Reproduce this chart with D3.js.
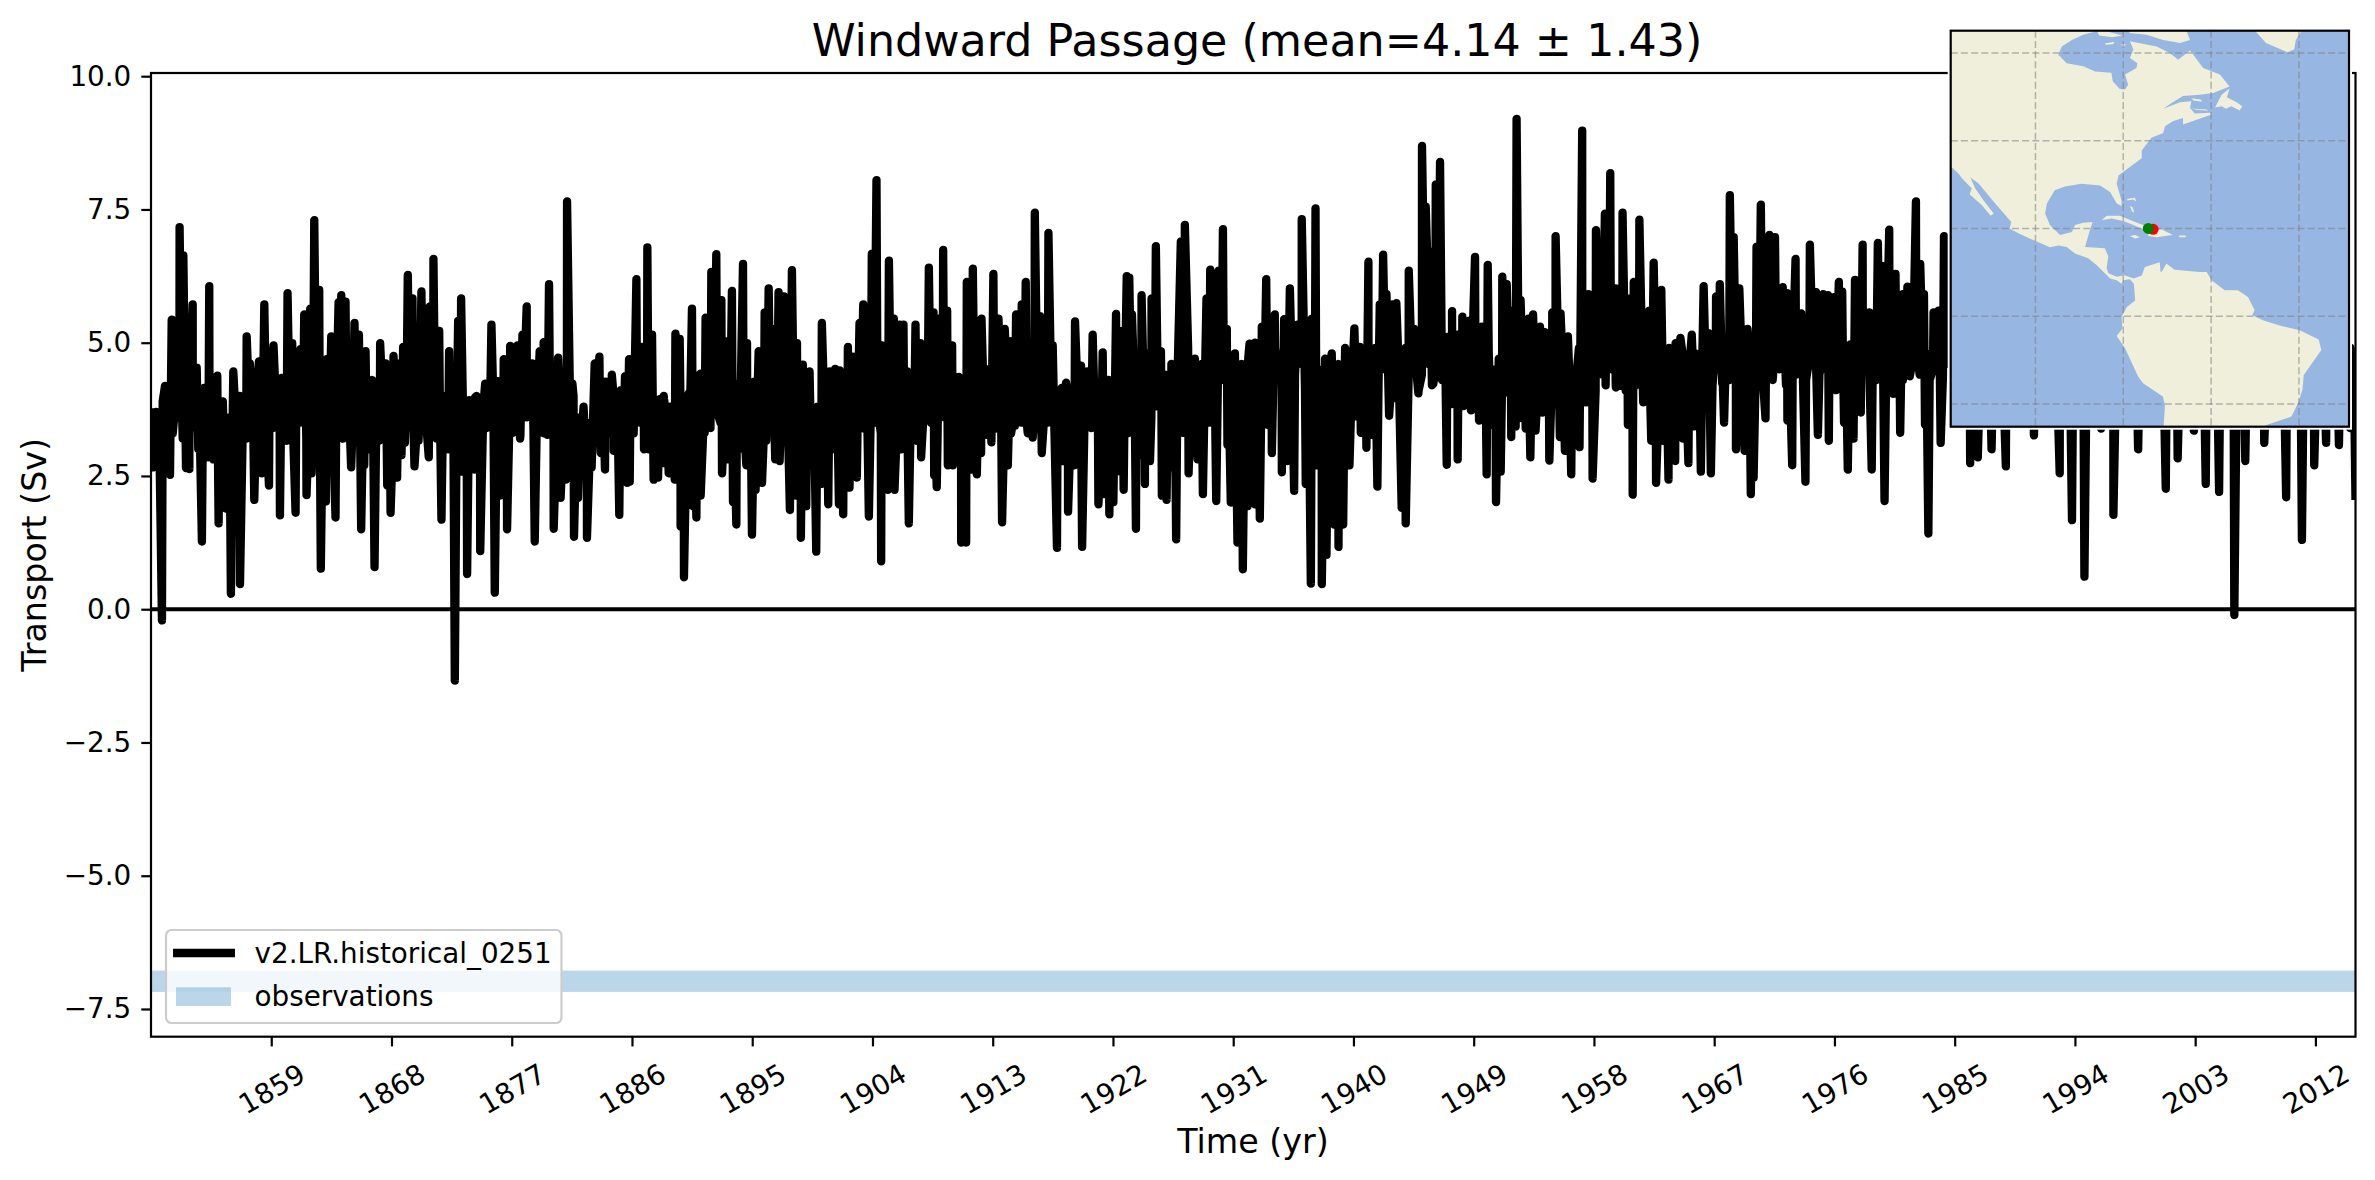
<!DOCTYPE html>
<html>
<head>
<meta charset="utf-8">
<script src="https://cdn.jsdelivr.net/npm/d3@7"></script>
<style>
html,body{margin:0;padding:0;background:#fff}
svg{display:block}
text{font-family:"DejaVu Sans";fill:#000}
</style>
</head>
<body>
<svg id="chart" width="2375" height="1180"></svg>
<script>
// ---------- chart values ----------
const titleText = "Windward Passage (mean=4.14 \u00b1 1.43)";
const xLabelText = "Time (yr)";
const yLabelText = "Transport (Sv)";
const seriesName = "v2.LR.historical_0251";
const bandName = "observations";
const xTicks = [1859,1868,1877,1886,1895,1904,1913,1922,1931,1940,1949,1958,1967,1976,1985,1994,2003,2012];
const yTicks = [-7.5,-5,-2.5,0,2.5,5,7.5,10];
const xDomain = [1850,2015];
const yDomain = [-8.02,10.06];
const bandRange = [-7.18,-6.78];

// peaks and troughs
const years = [
1850.00,1850.13,1850.55,1850.82,1851.05,1851.42,1851.55,1851.92,1852.14,1852.29,
1852.42,1852.62,1852.87,1853.12,1853.42,1853.54,1853.81,1853.96,1854.29,1854.36,
1854.66,1854.96,1855.06,1855.29,1855.58,1855.66,1855.98,1856.16,1856.41,1856.66,
1857.16,1857.40,1857.73,1858.08,1858.28,1858.48,1858.83,1858.90,1859.17,1859.65,
1859.77,1860.15,1860.22,1860.57,1860.82,1861.19,1861.47,1861.64,1861.92,1862.02,
1862.22,1862.59,1862.71,1863.09,1863.14,1863.49,1863.81,1864.04,1864.14,1864.24,
1864.51,1864.56,1864.81,1864.98,1865.23,1865.56,1865.73,1865.96,1866.06,1866.25,
1866.55,1866.73,1867.08,1867.15,1867.55,1867.68,1867.93,1868.15,1868.42,1868.55,
1868.75,1868.87,1869.00,1869.22,1869.57,1869.72,1870.02,1870.24,1870.49,1870.79,
1870.87,1871.14,1871.24,1871.57,1871.74,1872.24,1872.31,1872.61,1872.74,1872.99,
1873.16,1873.21,1873.66,1873.81,1874.18,1874.26,1874.61,1874.64,1875.01,1875.23,
1875.48,1875.73,1875.93,1876.10,1876.40,1876.65,1876.88,1877.10,1877.42,1877.65,
1877.80,1878.12,1878.22,1878.52,1878.72,1879.09,1879.34,1879.39,1879.67,1879.79,
1880.14,1880.47,1880.66,1881.04,1881.14,1881.54,1881.66,1881.96,1882.14,1882.48,
1882.63,1882.98,1883.21,1883.56,1883.66,1883.98,1884.02,1884.45,1884.49,1884.63,
1884.90,1885.05,1885.15,1885.48,1885.63,1885.78,
1885.83,1886.33,1886.58,1886.75,1886.90,1887.15,1887.25,1887.50,1887.62,1887.95,
1888.07,1888.32,1888.40,1888.75,1889.20,1889.25,1889.57,1889.64,1889.89,1890.14,
1890.49,1890.57,1890.82,1891.12,1891.14,1891.44,1891.51,1891.81,1891.94,1892.21,
1892.31,1892.69,1892.74,1892.94,1893.11,1893.18,1893.48,1893.56,1893.81,1893.86,
1894.31,1894.36,1894.56,1894.61,1894.98,1895.13,1895.25,1895.48,1895.73,1895.93,
1896.05,1896.23,1896.55,1896.72,1896.97,1897.05,1897.37,1897.55,1897.82,1897.97,
1898.30,1898.35,1898.64,1898.79,1899.04,1899.29,1899.79,1900.16,1900.21,1900.69,
1900.79,1901.16,1901.21,1901.49,1901.54,1901.81,1902.16,1902.28,1902.48,1902.53,
1902.83,1903.03,1903.31,1903.36,1903.73,1903.95,1904.30,1904.65,1904.70,1905.15,
1905.23,1905.60,1905.65,1906.02,1906.15,1906.32,1906.60,1906.72,1907.22,1907.32,
1907.59,1907.64,1908.09,1908.22,1908.57,1908.62,1908.81,1908.96,1909.26,1909.29,
1909.59,1909.64,1909.96,1910.01,1910.46,1910.64,1911.01,1911.06,1911.43,1911.51,
1911.81,1912.13,1912.16,1912.55,1912.63,1912.90,1913.05,1913.25,1913.43,1913.70,
1913.90,1914.13,1914.37,1914.65,1914.75,1915.00,1915.17,1915.32,1915.47,1915.57,
1915.99,1916.15,1916.54,1916.67,1917.04,1917.17,1917.49,1917.81,1917.86,1918.16,
1918.24,1918.49,1918.64,1919.11,1919.16,1919.61,1919.69,1920.06,1920.18,1920.48,
1920.91,1921.23,1921.35,1921.65,1921.73,1922.03,1922.23,1922.28,1922.68,1922.80,
1923.03,
1923.22,1923.42,1923.72,1923.77,1924.09,1924.14,1924.39,1924.42,1924.77,1924.89,
1925.21,1925.34,1925.59,1925.66,1925.89,1926.01,1926.31,1926.34,1926.73,1926.83,
1927.08,1927.21,1927.38,1927.66,1927.96,1928.08,1928.33,1928.53,1928.73,1929.00,
1929.20,1929.28,1929.73,1929.90,1930.23,1930.28,1930.52,1930.57,1930.82,1931.00,
1931.32,1931.37,1931.72,1932.07,1932.22,1932.57,1932.62,1932.99,1933.14,1933.47,
1933.57,1933.89,1934.11,1934.64,1934.81,1935.06,1935.24,1935.56,1935.81,1936.13,
1936.43,1936.48,1936.81,1936.88,1937.16,1937.23,1937.60,1937.63,1937.98,1938.20,
1938.55,1938.57,1938.88,1938.93,1939.18,1939.23,1939.55,1939.70,1940.07,1940.17,
1940.47,1940.55,1940.92,1940.97,1941.12,1941.37,1941.54,1941.79,1941.97,1942.22,
1942.47,1942.67,1942.91,1943.16,1943.21,1943.61,1943.71,1943.91,1944.14,1944.54,
1944.86,1945.13,1945.41,1945.61,1945.71,1945.98,1946.16,1946.48,1946.65,1946.98,
1947.03,1947.38,1947.40,1947.78,1947.80,1948.15,1948.22,1948.60,1948.80,1949.10,
1949.40,1949.60,1949.97,1950.05,1950.32,1950.67,1951.02,1951.14,1951.39,1951.47,
1951.76,1951.81,1952.14,1952.21,1952.51,1952.64,1952.89,1953.09,1953.24,1953.44,
1953.63,1953.96,1954.13,1954.31,1954.66,1954.88,1955.13,1955.45,1955.50,1955.83,
1956.05,1956.30,1956.50,1956.92,1957.12,1957.42,1957.57,1957.90,1958.15,1958.50,
1958.57,1958.82,1958.92,1959.22,1959.27,1959.62,1959.64,1959.92,1960.14,1960.49,
1960.54,
1960.90,1960.98,1961.40,1961.69,1962.12,1962.29,1962.47,1962.65,1963.04,1963.18,
1963.40,1963.58,1964.08,1964.11,1964.47,1964.65,1965.07,1965.32,1965.50,1965.71,
1966.00,1966.21,1966.57,1966.75,1967.14,1967.28,1967.42,1967.60,1967.74,1968.17,
1968.46,1968.63,1968.88,1969.28,1969.49,1969.74,1969.95,1970.17,1970.49,1970.84,
1971.13,1971.48,1971.55,1972.13,1972.45,1972.48,1972.84,1973.09,1973.51,1973.83,
1974.16,1974.62,1974.76,1975.15,1975.51,1975.58,1976.01,1976.11,1976.33,1976.58,
1976.72,1977.00,1977.18,1977.43,1977.54,1977.97,1978.11,1978.61,1978.79,1979.25,
1979.57,1979.75,1980.10,1980.39,1980.57,1980.92,1981.10,1981.46,1981.64,1982.10,
1982.42,1982.70,1982.78,1983.03,1983.42,1983.77,1983.95,1984.20,1984.84,1986.16,
1986.44,1986.73,1987.26,1987.76,1988.23,1988.83,1989.29,1990.00,1990.93,1991.79,
1992.86,1993.21,1993.78,1994.28,1994.71,1995.17,1995.95,1996.42,1996.88,1997.66,
1998.73,1999.80,2000.80,2001.23,2001.69,2002.29,2002.90,2003.36,2003.79,2004.26,
2004.79,2005.32,2005.93,2006.39,2006.75,2007.46,2008.17,2008.99,2009.81,2010.42,
2010.99,2011.45,2011.91,2012.34,2012.80,2013.27,2013.76,2014.23,2014.58,2014.83,
2015.00
];
const transport = [
3.77,2.66,3.39,-0.21,4.19,2.52,5.43,3.62,7.17,4.11,
6.64,2.65,2.63,5.72,4.53,3.00,1.27,4.15,2.85,6.06,
2.81,4.38,1.61,3.73,1.89,3.20,0.29,4.46,1.93,0.47,
5.12,4.61,2.05,4.65,2.55,5.72,2.32,4.84,4.95,1.76,
4.34,3.16,5.93,4.99,1.81,4.88,5.53,2.14,5.64,2.55,
7.30,5.99,0.76,2.02,4.69,5.12,1.72,5.76,3.88,5.89,
3.28,5.77,4.46,2.66,5.37,5.15,1.50,2.70,4.84,3.00,
4.30,0.79,3.16,4.99,4.61,2.32,1.81,4.75,2.47,4.61,
2.89,4.92,3.12,6.27,5.83,2.68,3.16,5.96,5.64,2.85,
5.68,6.57,4.30,5.22,1.68,3.00,4.84,4.00,-1.34,5.41,
2.58,5.83,0.66,3.92,2.62,3.98,3.12,1.09,4.23,3.50,
5.34,0.31,4.28,2.13,4.69,1.50,4.94,3.31,4.95,3.27,
5.15,5.68,3.81,4.61,1.27,4.84,3.54,5.01,3.27,6.10,
1.51,4.72,2.09,2.43,7.65,4.23,1.36,2.09,2.85,3.22,
1.34,2.66,4.61,4.74,2.93,2.62,4.27,3.35,4.40,2.97,
3.98,1.77,4.11,4.37,2.37,4.69,
2.39,6.19,4.57,4.92,3.00,6.79,3.00,5.15,2.43,2.47,
3.94,2.74,3.94,2.55,2.43,5.17,5.07,1.55,0.60,4.00,
5.64,1.93,1.72,4.42,2.13,3.31,5.47,3.65,6.33,4.23,
6.66,5.80,2.55,5.03,2.81,4.88,5.97,2.01,1.59,4.23,
6.48,3.00,2.70,4.99,1.40,4.27,2.24,4.84,2.37,5.57,
3.16,6.02,5.26,2.81,5.95,2.78,5.87,4.04,1.86,6.36,
2.13,4.99,1.34,4.59,1.93,4.46,1.08,2.35,5.37,1.97,
4.46,3.00,4.51,1.97,4.48,1.78,4.92,2.28,3.12,4.74,
2.47,5.37,5.72,3.39,1.74,6.67,8.05,0.90,4.95,2.24,
6.54,5.45,2.24,5.34,3.00,5.34,4.46,1.61,5.34,3.16,
4.99,2.85,3.85,6.41,5.57,2.51,2.29,5.45,4.00,6.74,
5.60,2.70,4.95,2.70,4.36,1.25,1.25,6.14,2.62,6.39,
2.53,2.93,5.45,3.27,4.50,3.13,6.29,3.39,5.45,1.63,
5.26,2.70,5.03,3.44,5.53,3.88,5.72,4.72,6.14,3.44,
3.22,7.44,5.50,2.93,4.00,7.06,4.95,1.15,4.00,4.15,
2.78,4.25,1.83,2.70,5.40,4.57,1.17,4.46,3.88,5.15,
1.97,4.82,2.16,4.30,1.78,2.01,5.54,2.58,5.22,2.24,
6.25,
6.22,5.53,1.51,4.53,2.89,5.89,2.35,4.80,2.78,5.83,
6.81,4.42,4.84,2.13,3.39,2.05,3.79,2.66,1.31,4.38,
6.90,3.31,7.21,2.55,4.36,3.04,2.81,4.51,2.16,5.83,
3.50,6.37,2.03,6.35,7.13,5.07,5.26,3.08,2.00,4.07,
1.25,3.31,0.75,1.93,4.98,4.42,1.97,1.70,5.30,6.19,
3.46,2.93,5.53,2.57,5.44,2.78,6.02,2.22,5.34,7.32,
2.35,5.26,0.48,5.45,7.52,2.70,4.00,0.47,1.02,4.48,
1.59,4.15,1.17,3.39,4.38,1.59,4.74,2.70,5.27,3.62,
4.92,3.31,4.19,3.03,6.52,3.27,3.92,2.30,5.72,6.65,
5.91,3.63,5.72,3.96,5.74,1.90,4.65,1.61,6.35,5.26,
4.05,8.69,7.55,5.83,6.71,4.23,7.97,8.39,4.61,2.71,
5.11,5.59,3.85,5.15,2.81,5.49,3.81,5.41,3.73,6.61,
3.54,5.30,2.53,6.46,3.46,2.01,2.58,6.24,4.07,6.10,
5.60,3.23,3.43,9.20,5.80,3.58,3.39,5.45,2.85,5.53,
3.35,5.30,3.69,5.20,2.79,5.57,7.00,3.23,5.55,2.97,
5.12,2.53,3.96,3.04,8.98,3.88,5.91,2.45,7.11,6.41,
5.15,7.42,5.15,8.18,4.72,6.02,4.16,4.19,7.44,5.83,
3.46,
2.15,6.14,7.31,3.88,5.60,3.16,6.50,2.37,5.99,3.16,
4.84,2.43,2.78,4.99,5.09,3.20,2.74,5.15,3.43,4.79,
2.58,6.06,5.18,2.55,5.87,4.50,6.10,4.23,3.50,7.77,
6.98,3.00,6.02,2.97,5.26,2.16,2.47,6.80,7.59,3.58,
7.02,4.65,6.98,6.04,5.93,3.54,2.70,6.57,5.55,2.39,
6.84,5.95,3.27,5.91,5.89,3.16,5.86,4.11,6.14,5.96,
3.50,2.62,4.97,3.20,6.18,3.69,6.84,5.57,2.62,6.87,
6.44,2.03,7.12,4.04,6.29,3.31,5.91,6.05,4.37,7.65,
6.48,5.91,3.46,1.42,5.57,5.60,3.12,7.00,5.60,2.74,
4.40,2.85,5.00,3.00,5.20,2.68,5.00,4.50,3.26,4.90,
2.55,5.40,1.67,5.00,0.61,5.20,3.39,5.30,1.77,5.10,
3.00,5.00,2.26,4.70,2.83,4.80,3.35,5.10,2.35,4.90,
2.20,4.80,-0.11,4.40,2.78,5.20,3.12,5.00,2.10,5.00,
1.30,5.00,2.70,4.80,3.12,4.70,3.08,4.70,3.40,4.61,
2.05
];
// quarterly estimates inside the solid black body of the trace (20 per line = 5 years)
const bodyYears = d3.range(1850.125,2015,0.25);
const bodyTransport = [
3.4,3.7,3.2,3.9,3.5,3.8,3.3,4.0,3.6,3.2,3.8,3.5,3.9,3.4,3.7,3.3,3.6,4.0,3.5,3.2,
3.7,3.9,3.3,3.6,3.8,3.4,4.0,3.5,3.2,3.7,3.9,3.6,3.3,3.8,3.5,4.1,3.4,3.7,3.9,3.3,
3.6,3.8,3.4,4.0,3.5,3.7,3.2,3.9,3.6,3.4,3.8,4.0,3.3,3.7,3.5,3.9,3.6,3.2,3.8,3.4,
3.7,3.3,3.9,3.5,3.6,4.0,3.4,3.8,3.2,3.7,3.5,3.9,3.3,3.6,3.8,3.4,4.0,3.5,3.7,3.3,
3.9,3.6,3.4,3.8,3.5,3.2,3.7,4.0,3.6,3.3,3.8,3.5,3.9,3.4,3.7,3.6,3.3,4.0,3.5,3.8,
3.4,3.7,3.9,3.3,3.6,3.8,3.5,4.1,3.4,3.7,3.2,3.9,3.6,3.8,3.4,3.5,4.0,3.3,3.7,3.6,
3.9,3.4,3.8,3.5,3.3,3.7,4.0,3.6,3.4,3.8,3.5,3.2,3.9,3.7,3.4,3.6,3.8,3.3,4.0,3.5,
3.7,3.4,3.9,3.6,3.3,3.8,3.5,4.2,3.6,3.3,3.9,3.7,3.4,4.0,3.5,3.8,3.3,3.6,3.9,3.4,
3.7,4.1,3.5,3.8,3.3,3.6,4.0,3.4,3.9,3.7,3.5,3.3,3.8,4.1,3.6,3.4,3.9,3.5,3.7,4.0,
3.4,3.8,3.6,3.3,4.1,3.5,3.9,3.7,3.4,3.6,4.0,3.8,3.5,3.3,3.9,3.6,4.1,3.4,3.7,3.8,
3.5,4.0,3.3,3.6,3.9,3.7,3.4,4.1,3.5,3.8,3.6,3.3,3.9,4.0,3.4,3.7,3.5,3.8,3.3,4.1,
3.6,3.9,3.4,3.7,4.0,3.5,3.3,3.8,3.6,4.1,3.4,3.9,3.7,3.5,3.8,3.3,4.0,3.6,3.4,3.9,
3.7,3.5,4.1,3.4,3.8,3.6,4.0,3.3,3.9,3.5,3.7,4.1,3.4,3.6,3.8,3.5,4.0,3.3,3.7,3.9,
3.5,3.8,3.3,4.0,3.6,3.4,3.9,3.7,3.5,4.1,3.3,3.8,3.6,3.4,4.0,3.7,3.5,3.9,3.3,3.6,
4.0,3.4,3.8,3.6,3.3,3.9,3.5,4.1,3.7,3.4,3.6,3.9,3.3,3.8,4.0,3.5,3.7,3.4,4.1,3.6,
3.8,4.2,3.9,4.4,4.0,4.6,4.2,4.8,4.1,4.5,4.9,4.3,4.7,4.0,4.6,4.2,4.8,4.4,4.1,4.7,
4.3,4.9,4.5,4.1,4.8,4.4,4.6,4.0,4.7,4.2,5.0,4.5,4.3,4.8,4.1,4.6,4.9,4.3,4.5,4.8,
4.2,4.7,4.4,5.0,4.6,4.1,4.8,4.3,4.9,4.5,4.2,4.7,4.4,4.8,4.1,4.6,4.3,4.9,4.5,4.2,
4.7,4.4,4.1,4.8,4.6,4.3,4.9,4.2,4.5,4.7,4.1,4.4,4.8,4.6,4.2,4.9,4.3,4.5,4.7,4.1,
4.4,4.8,4.6,4.2,4.5,4.9,4.3,4.7,4.1,4.4,4.6,4.8,4.2,4.5,4.3,4.7,4.9,4.1,4.4,4.6,
4.8,4.2,4.5,4.7,4.3,4.1,4.6,4.9,4.4,4.2,4.8,4.5,4.3,4.7,4.1,4.6,4.4,4.9,4.2,4.5,
4.7,4.3,4.8,4.1,4.6,4.4,4.2,4.9,4.5,4.7,4.3,4.6,4.1,4.8,4.4,4.2,4.7,4.5,4.3,4.8,
4.6,4.1,4.4,4.9,4.2,4.7,4.5,4.3,4.8,4.6,4.4,4.1,4.7,4.2,4.9,4.5,4.3,4.6,4.8,4.4,
4.5,4.8,4.3,4.6,4.9,4.4,4.7,4.2,5.0,4.6,4.4,4.8,4.3,4.7,4.5,4.9,4.2,4.6,4.8,4.4,
4.7,5.0,4.4,4.6,4.8,4.3,4.9,4.5,4.7,4.2,4.6,4.8,4.4,5.0,4.5,4.3,4.7,4.9,4.6,4.4,
4.8,4.5,4.7,5.0,4.3,4.6,4.9,4.4,4.8,4.5,4.2,4.7,4.6,5.0,4.4,4.8,4.3,4.6,4.9,4.5,
4.7,4.4,4.8,4.6,4.3,4.9,4.5,4.7,5.0,4.4,4.6,4.8,4.3,4.5,4.9,4.7,4.4,4.6,4.8,4.5,
4.3,4.7,4.9,4.4,4.6,4.8,4.5,4.2,4.7,5.0,4.6,4.4,4.8,4.5,4.3,4.9,4.6,4.7,4.4,4.8,
4.5,4.7,4.3,4.9,4.6,4.4,4.8,4.5,4.7,4.2,4.6,4.9,4.4,4.7,4.5,4.8,4.3,4.6,4.9,4.5,
4.7,4.4,4.8,4.6,5.0,4.3,4.7,4.5,4.9,4.4,4.6,4.8,4.5,4.7,4.3,4.9,4.6,4.4,4.8,4.5,
4.7,4.9,4.4,4.6,4.3,4.8,4.5,4.7,5.0,4.4,4.6,4.8,4.3,4.5,4.9,4.7,4.4,4.6,4.8,4.5,
4.3,4.7,4.9,4.5,4.6,4.4,4.8,4.7,4.3,4.9,4.5,4.6,4.8,4.4,4.7,4.5,4.9,4.3,4.6,4.8,
4.5,4.7,4.4,4.9,4.6,4.3,4.8,4.5,4.7,4.4,4.6,4.9,4.5,4.3,4.8,4.6,4.7,4.4,4.9,4.5
];

// ---------- map outlines, [lon, lat] ----------
const mapLon = [-119.3,-28.6];
const mapLat = [-25.2,65.1];
const gridLons = [-100,-80,-60,-40];
const gridLats = [60,40,20,0,-20];
const americas = [
[-125,68],[-86.4,68],[-86.4,64.9],[-89.1,64.2],[-91.7,63],[-94,61.5],[-94.8,59.6],[-92.9,57.7],[-89.1,57],[-86.4,55.8],
[-82.7,55.5],[-82.4,53.6],[-80.8,51.8],[-79.6,51.7],[-78.9,52.8],[-79.6,55.1],[-77,56.6],[-76.8,57.7],[-78.5,58.9],[-77.7,60.8],[-78.5,62.7],
[-72.4,61.5],[-69.4,60],[-67.5,58.5],[-64.8,60.6],[-61.8,56.6],[-58,55.1],[-55.8,52.4],[-59.5,50.9],[-62.6,50.5],[-66.4,50.2],[-69,48.6],[-70.9,47.3],
[-67.1,48.8],[-64.5,49],[-64.8,47.5],[-63.7,46.2],[-60.3,46.4],[-59.9,46],[-63.3,44.8],[-66.4,43.7],[-66.4,45.2],[-68.6,44.5],[-70.5,43.3],[-70.9,41.8],
[-73.6,40.7],[-74.7,39.2],[-75.8,37.8],[-75.8,36],[-78.5,34],[-81.1,32.1],[-81.5,30.2],[-80.4,26.4],[-80.4,25.1],[-81.5,25.7],[-83,28.3],[-85.3,29.8],
[-89.5,30.2],[-93.3,29.6],[-95.6,28.7],[-97.4,25.7],[-97.8,23.4],[-96.7,20.8],[-94.4,18.5],[-91.7,19.2],[-91,20.8],[-89.1,21.3],[-87,21.5],[-87.6,19.6],
[-88.7,15.8],[-84.2,15.5],[-83.4,13.6],[-83.8,11],[-83.4,9.8],[-81.5,9],[-80,9.3],[-79.6,9.3],[-77.6,8.6],[-75.8,9.3],[-75.1,11.2],[-71.7,12.3],[-71.5,10],[-71.2,10.2],[-70.2,12],
[-68.3,10.6],[-65.2,10.3],[-62.6,10.1],[-61,10.1],[-59.9,8.2],[-56.9,5.9],[-53.9,5.9],[-51.6,4.4],[-50.1,1.4],[-50.6,0.2],[-48.2,-0.9],[-44.8,-2],
[-39.8,-3.2],[-35.5,-5.3],[-34.9,-7.7],[-38.9,-13.4],[-39.2,-16.8],[-40.2,-19.8],[-41.7,-22.9],[-47.4,-24.8],[-50,-26.5],
[-70.8,-26.5],[-70.8,-24.8],[-70.5,-20.2],[-71,-18.3],[-75.5,-15.3],[-76.6,-13.8],[-79.6,-7.3],[-81.5,-4.5],[-80.2,-2.8],[-80.4,-0.2],[-79.2,2.1],[-77.3,3.6],
[-77.6,7.4],[-78.5,8.4],[-80,8.2],[-80.4,7.4],[-81.5,8.2],[-83,8.6],[-86.1,11.7],[-88,13.2],[-91,14.3],[-92.9,15.8],[-94.8,16.1],[-96.7,15.7],[-100.8,17.5],
[-103.9,18.9],[-105.9,20],[-105.5,21.5],[-109.5,26.1],[-112.9,30.2],[-114.8,31.6],[-113.7,29.1],[-111.8,26.4],[-109.5,23.4],[-110.2,22.9],[-112.2,25.3],[-115,27.8],
[-114.5,29.1],[-116.7,31.4],[-117.5,32.5],[-119,33.9],[-125,37]
];
const baffinWest = [[-86.4,66],[-85.5,64],[-82.5,63.6],[-80.2,64],[-83.2,64.8],[-85,66]];
const baffinEast = [[-78.5,66],[-78.6,64.6],[-74.7,64.2],[-70.9,63],[-67.1,62.3],[-64.8,63],[-66,66]];
const smallIslandA = [[-84.2,62.2],[-82,62.6],[-82.3,62],[-84,61.9]];
const smallIslandB = [[-80.5,62],[-79.4,62],[-80,61.4]];
const greenland = [[-51,66.5],[-50.2,65.3],[-47.5,62.3],[-42.6,60.2],[-41.1,60.8],[-40.7,63],[-38.8,66]];
const newfoundland = [[-59.1,47.6],[-57.6,50.5],[-55.8,51.9],[-56.4,49.9],[-54.2,48.8],[-52.9,47.9],[-53.5,46.9],[-55.4,47.9],[-56.6,47.3],[-57.6,47.9]];
const anticosti = [[-64.5,49.7],[-62.4,49.4],[-62,48.9],[-64,49.2]];
const capeBreton = [[-64.8,47.7],[-63.5,47],[-60.6,46.9],[-61.2,47.2],[-63.6,47.2]];
const cuba = [[-84.9,21.9],[-83.8,22.9],[-80.8,22.9],[-77.3,21.5],[-75.5,20.8],[-73.6,20],[-75.5,19.8],[-77.7,20.8],[-80,21.7],[-82.7,22.3]];
const hispaniola = [[-74.3,18.7],[-73.2,19.6],[-71.3,19.8],[-68.7,18.5],[-70.5,18.3],[-72.4,18],[-74.3,18.3]];
const jamaica = [[-78.5,18.3],[-77.3,18.5],[-76.2,18],[-77.3,17.7]];
const puertoRico = [[-67.3,18.4],[-65.8,18.4],[-65.8,18],[-67.3,18]];
const grandBahama = [[-79.1,26.8],[-77.3,27],[-77.1,26.1],[-77.7,26.6],[-79.1,26.4]];
const andros = [[-78.5,25.1],[-77.9,24.9],[-77.5,23.6],[-78,23.9]];
const landShapes = [americas,baffinWest,baffinEast,smallIslandA,smallIslandB,greenland,newfoundland,anticosti,capeBreton,cuba,hispaniola,jamaica,puertoRico,grandBahama,andros];
const redPoint = [-73.2,19.8];
const greenPoint = [-74.3,20];

// ---------- layout ----------
if (years.length !== transport.length) throw new Error("length mismatch " + years.length + " " + transport.length);
if (bodyYears.length !== bodyTransport.length) throw new Error("body mismatch " + bodyYears.length + " " + bodyTransport.length);
const ax = {l:151,r:2355.5,t:73,b:1036.7};
const svg = d3.select("#chart");
const x = d3.scaleLinear().domain(xDomain).range([ax.l,ax.r]);
const y = d3.scaleLinear().domain(yDomain).range([ax.b,ax.t]);

svg.append("defs").append("clipPath").attr("id","axclip").append("rect")
  .attr("x",ax.l).attr("y",ax.t).attr("width",ax.r-ax.l).attr("height",ax.b-ax.t);

const plot = svg.append("g").attr("clip-path","url(#axclip)");
plot.append("rect").attr("x",ax.l).attr("width",ax.r-ax.l)
  .attr("y",y(bandRange[1])).attr("height",y(bandRange[0])-y(bandRange[1]))
  .attr("fill","#1f77b4").attr("fill-opacity",0.3);
const tracePoints = d3.sort(d3.zip(years,transport).concat(d3.zip(bodyYears,bodyTransport)), d=>d[0]);
plot.append("path").datum(tracePoints)
  .attr("fill","none").attr("stroke","#000").attr("stroke-width",8.33)
  .attr("stroke-linejoin","round").attr("stroke-linecap","butt")
  .attr("d",d3.line().x(d=>x(d[0])).y(d=>y(d[1])));
plot.append("line").attr("x1",ax.l).attr("x2",ax.r).attr("y1",y(0)).attr("y2",y(0))
  .attr("stroke","#000").attr("stroke-width",4);

// axes
const xAxis = svg.append("g").attr("transform",`translate(0,${ax.b})`)
  .call(d3.axisBottom(x).tickValues(xTicks).tickFormat(d3.format("d")).tickSize(9.7).tickPadding(7));
xAxis.selectAll("text").remove();
xAxis.selectAll(".tick").append("text")
  .attr("transform","translate(0,52) rotate(-30)")
  .attr("text-anchor","middle").attr("dy","0.36em").attr("font-size",27.8)
  .text(d=>d);
const yAxis = svg.append("g").attr("transform",`translate(${ax.l},0)`)
  .call(d3.axisLeft(y).tickValues(yTicks).tickFormat(d=>d3.format(".1f")(d).replace("-","\u2212")).tickSize(9.7).tickPadding(10));
yAxis.selectAll("text").attr("font-size",27.8).attr("font-family","DejaVu Sans");
svg.selectAll(".tick line").attr("stroke","#000").attr("stroke-width",2.2);
svg.selectAll(".domain").remove();
svg.append("rect").attr("x",ax.l).attr("y",ax.t).attr("width",ax.r-ax.l).attr("height",ax.b-ax.t)
  .attr("fill","none").attr("stroke","#000").attr("stroke-width",2.2);

// title and labels
svg.append("text").attr("x",1257).attr("y",56).attr("text-anchor","middle").attr("font-size",44.4).text(titleText);
svg.append("text").attr("x",1253).attr("y",1153).attr("text-anchor","middle").attr("font-size",33.3).text(xLabelText);
svg.append("text").attr("transform",`translate(46,${(ax.t+ax.b)/2}) rotate(-90)`).attr("text-anchor","middle").attr("font-size",33.3).text(yLabelText);

// legend
const lg = svg.append("g");
lg.append("rect").attr("x",166).attr("y",930).attr("width",395.5).attr("height",93).attr("rx",5.5)
  .attr("fill","#fff").attr("fill-opacity",0.8).attr("stroke","#ccc").attr("stroke-width",2.2);
lg.append("line").attr("x1",173).attr("x2",235).attr("y1",953).attr("y2",953).attr("stroke","#000").attr("stroke-width",8.33);
lg.append("rect").attr("x",176).attr("y",987.3).attr("width",55).attr("height",18.7).attr("fill","#1f77b4").attr("fill-opacity",0.3);
lg.append("text").attr("x",254.5).attr("y",963).attr("font-size",27.8).text(seriesName);
lg.append("text").attr("x",254.5).attr("y",1006).attr("font-size",27.8).text(bandName);

// inset map
const inset = {l:1950.7,r:2349,t:30.7,b:426.7};
svg.append("rect").attr("x",inset.l-3).attr("y",inset.t-3).attr("width",inset.r-inset.l+6).attr("height",inset.b-inset.t+6).attr("fill","#fff");
svg.select("defs").append("clipPath").attr("id","mapclip").append("rect")
  .attr("x",inset.l).attr("y",inset.t).attr("width",inset.r-inset.l).attr("height",inset.b-inset.t);
const mx = d3.scaleLinear().domain(mapLon).range([inset.l,inset.r]);
const my = d3.scaleLinear().domain(mapLat).range([inset.b,inset.t]);
const map = svg.append("g").attr("clip-path","url(#mapclip)");
map.append("rect").attr("x",inset.l).attr("y",inset.t).attr("width",inset.r-inset.l).attr("height",inset.b-inset.t).attr("fill","#97b6e1");
const landLine = d3.line().x(d=>mx(d[0])).y(d=>my(d[1])).curve(d3.curveLinearClosed);
map.selectAll("path.land").data(landShapes).join("path").attr("class","land")
  .attr("d",landLine).attr("fill","#efefdb");
const gridStyle = s => s.attr("stroke","#808080").attr("stroke-opacity",0.55).attr("stroke-width",1.5).attr("stroke-dasharray","7,3.2");
map.selectAll("line.gx").data(gridLons).join("line").attr("class","gx")
  .attr("x1",d=>mx(d)).attr("x2",d=>mx(d)).attr("y1",inset.t).attr("y2",inset.b).call(gridStyle);
map.selectAll("line.gy").data(gridLats).join("line").attr("class","gy")
  .attr("y1",d=>my(d)).attr("y2",d=>my(d)).attr("x1",inset.l).attr("x2",inset.r).call(gridStyle);
map.append("circle").attr("cx",mx(redPoint[0])).attr("cy",my(redPoint[1])).attr("r",5.5).attr("fill","#ff0000");
map.append("circle").attr("cx",mx(greenPoint[0])).attr("cy",my(greenPoint[1])).attr("r",5.5).attr("fill","#008000");
svg.append("rect").attr("x",inset.l).attr("y",inset.t).attr("width",inset.r-inset.l).attr("height",inset.b-inset.t)
  .attr("fill","none").attr("stroke","#000").attr("stroke-width",2.2);
</script>
</body>
</html>
